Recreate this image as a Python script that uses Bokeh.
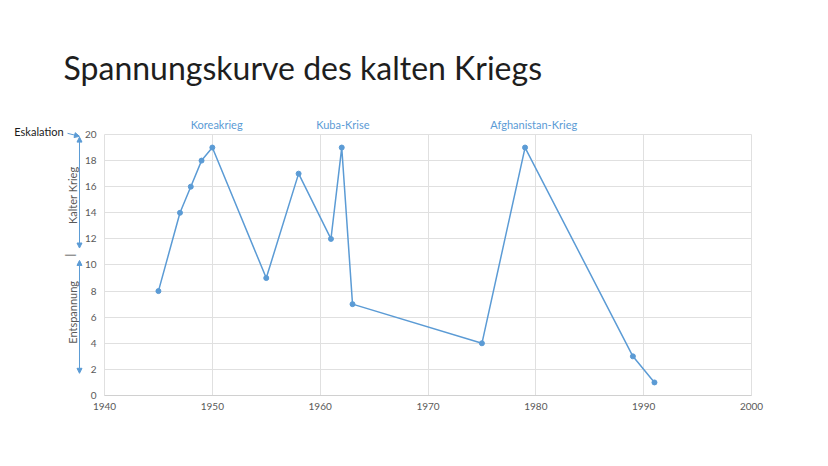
import math
from bokeh.plotting import figure
from bokeh.models import Label, Arrow, NormalHead, FixedTicker, Range1d
from bokeh.embed import file_html
from bokeh.resources import INLINE

# ---- data ----
years = [1945, 1947, 1948, 1949, 1950, 1955, 1958, 1961, 1962, 1963, 1975, 1979, 1989, 1991]
tension = [8, 14, 16, 18, 19, 9, 17, 12, 19, 7, 4, 19, 3, 1]
event_names = ["Koreakrieg", "Kuba-Krise", "Afghanistan-Krieg"]
event_years = [1950.4, 1962.1, 1979.8]
x_ticks = [1940, 1950, 1960, 1970, 1980, 1990, 2000]
y_ticks = [0, 2, 4, 6, 8, 10, 12, 14, 16, 18, 20]
title_text = "Spannungskurve des kalten Kriegs"

BLUE = "#5b9bd5"
GRAY = "#595959"
GRID = "#e0e0e0"
FONT = "Lato"

X0, X1 = x_ticks[0], x_ticks[-1]
Y0, Y1 = y_ticks[0], y_ticks[-1]

# The frame covers the whole canvas; ranges are set so that the data box
# 1940..2000 x 0..20 lands where the reference plot area is.
p = figure(width=812, height=450,
           x_range=Range1d(1930.355, 2005.656), y_range=Range1d(-4.215, 30.268),
           output_backend="svg", toolbar_location=None, min_border=0)
p.outline_line_color = None
p.background_fill_color = "white"
p.border_fill_color = "white"

p.xaxis.ticker = FixedTicker(ticks=x_ticks)
p.yaxis.ticker = FixedTicker(ticks=y_ticks)
p.xaxis.fixed_location = Y0
p.yaxis.fixed_location = X0
p.xaxis.bounds = (X0, X1)
p.yaxis.bounds = (Y0, Y1)
for ax in (p.xaxis, p.yaxis):
    ax.major_tick_line_color = None
    ax.minor_tick_line_color = None
    ax.major_tick_out = 0
    ax.major_tick_in = 0
    ax.major_label_text_color = GRAY
    ax.major_label_text_font = FONT
    ax.major_label_text_font_size = "10px"
p.xaxis.axis_line_color = "#d0d0d0"
p.yaxis.axis_line_color = None
p.xaxis.major_label_standoff = 8
p.yaxis.major_label_standoff = 8

p.xgrid.ticker = FixedTicker(ticks=x_ticks)
p.ygrid.ticker = FixedTicker(ticks=y_ticks)
p.xgrid.grid_line_color = GRID
p.ygrid.grid_line_color = GRID
p.xgrid.bounds = (X0, X1)
p.ygrid.bounds = (Y0, Y1)
try:
    p.xgrid.cross_bounds = (Y0, Y1)
    p.ygrid.cross_bounds = (X0, X1)
except Exception:
    p.xgrid.visible = False
    p.ygrid.visible = False
    p.segment(x0=x_ticks, y0=[Y0] * len(x_ticks), x1=x_ticks, y1=[Y1] * len(x_ticks),
              line_color=GRID, line_width=1, level="underlay")
    p.segment(x0=[X0] * len(y_ticks), y0=y_ticks, x1=[X1] * len(y_ticks), y1=y_ticks,
              line_color=GRID, line_width=1, level="underlay")

p.line(years, tension, line_color=BLUE, line_width=1.5)
p.scatter(years, tension, size=5, fill_color=BLUE, line_color=BLUE)

for name, yr in zip(event_names, event_years):
    p.add_layout(Label(x=yr, y=Y1, y_offset=10, text=name, text_align="center",
                       text_baseline="middle", text_color=BLUE, text_font=FONT,
                       text_font_size="11px"))

# title
p.add_layout(Label(x=1936.2, y=25.15, text=title_text, text_align="left",
                   text_baseline="alphabetic", text_color="#1e1e1e", text_font=FONT,
                   text_font_size="32px"))

# left side annotations
ax_x = 1937.68
p.add_layout(Label(x=1936.2, y=20.2, text="Eskalation", text_align="right",
                   text_baseline="middle", text_color="#1a1a1a", text_font=FONT,
                   text_font_size="11px"))
p.add_layout(Arrow(x_start=1936.57, y_start=20.09, x_end=ax_x, y_end=19.86,
                   line_color=BLUE, line_width=1,
                   end=NormalHead(size=5, fill_color=BLUE, line_color=BLUE)))
p.add_layout(Arrow(x_start=ax_x, y_start=19.8, x_end=ax_x, y_end=11.3,
                   line_color=BLUE, line_width=1,
                   start=NormalHead(size=5, fill_color=BLUE, line_color=BLUE),
                   end=NormalHead(size=5, fill_color=BLUE, line_color=BLUE)))
p.add_layout(Arrow(x_start=ax_x, y_start=10.35, x_end=ax_x, y_end=1.7,
                   line_color=BLUE, line_width=1,
                   start=NormalHead(size=5, fill_color=BLUE, line_color=BLUE),
                   end=NormalHead(size=5, fill_color=BLUE, line_color=BLUE)))
p.add_layout(Label(x=1937.03, y=15.34, text="Kalter Krieg", angle=math.pi / 2,
                   text_align="center", text_baseline="middle", text_color=GRAY,
                   text_font=FONT, text_font_size="11px"))
p.add_layout(Label(x=1937.03, y=6.37, text="Entspannung", angle=math.pi / 2,
                   text_align="center", text_baseline="middle", text_color=GRAY,
                   text_font=FONT, text_font_size="11px"))
p.add_layout(Label(x=1936.75, y=10.76, text="|", angle=math.pi / 2,
                   text_align="center", text_baseline="middle", text_color="#404040",
                   text_font=FONT, text_font_size="11px"))

open("out.html", "w").write(file_html(p, INLINE))
